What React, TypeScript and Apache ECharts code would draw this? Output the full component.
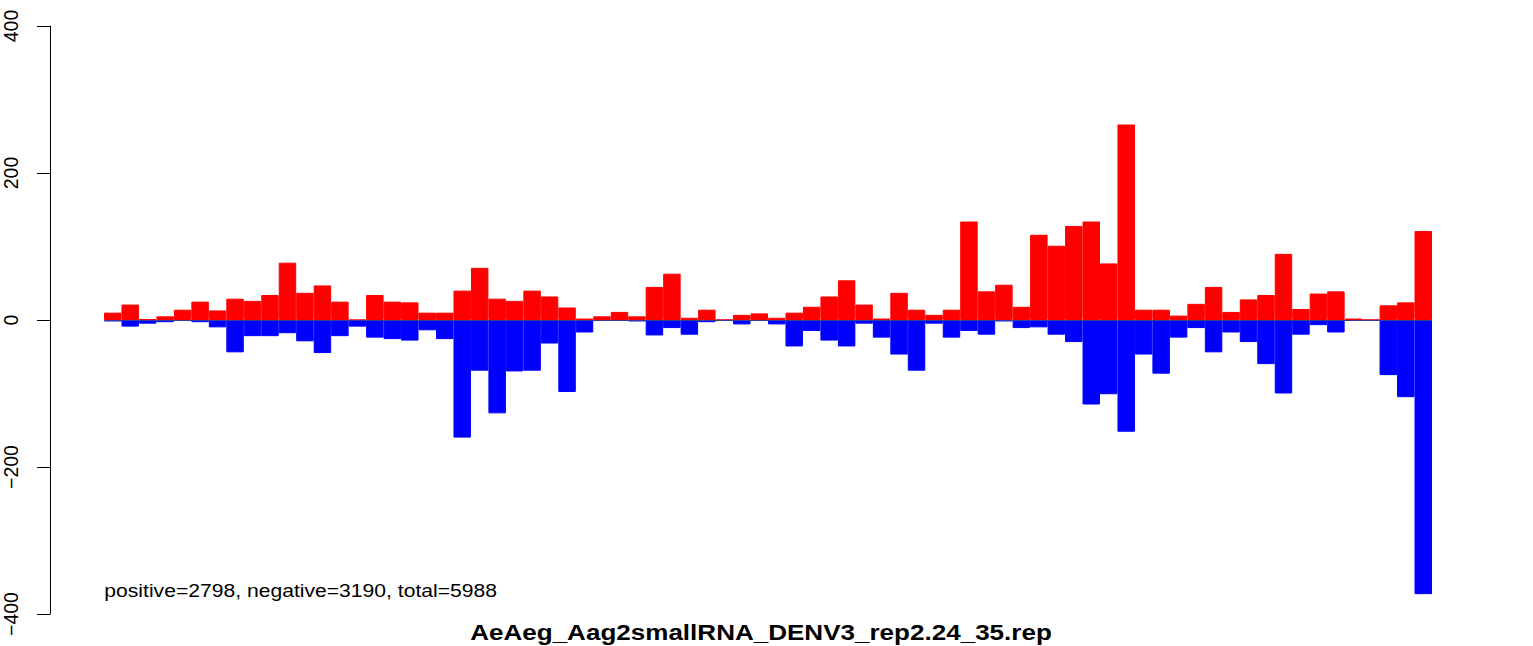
import React, { useEffect, useRef } from "react";
import * as echarts from "echarts";

const bins: number[] = Array.from({ length: 76 }, (_, i) => i + 1);

const positive: number[] = [
  10, 21, 1, 5, 14, 25, 13, 29, 26, 34,
  78, 37, 47, 25, 0, 34, 25, 24, 10, 10,
  40, 71, 29, 26, 40, 32, 17, 2, 5, 11,
  5, 45, 63, 3, 14, 0, 7, 9, 3, 10,
  18, 32, 54, 21, 2, 37, 14, 7, 14, 134,
  39, 48, 18, 116, 101, 128, 134, 77, 266, 14,
  14, 6, 22, 45, 11, 28, 34, 90, 15, 36,
  39, 2, 0, 20, 24, 121,
];

const negative: number[] = [
  -2, -9, -5, -3, -1, -3, -10, -44, -22, -22,
  -18, -29, -45, -22, -9, -24, -26, -28, -14, -26,
  -160, -69, -127, -70, -69, -32, -98, -17, -1, -1,
  -2, -21, -11, -20, -3, -1, -6, -1, -6, -36,
  -15, -28, -36, -5, -24, -47, -69, -5, -24, -15,
  -20, -2, -11, -10, -20, -30, -115, -101, -152, -47,
  -73, -24, -11, -44, -17, -30, -60, -100, -20, -7,
  -17, -1, -1, -75, -105, -373,
];

const yTicks: number[] = [-400, -200, 0, 200, 400];

const titleText = "AeAeg_Aag2smallRNA_DENV3_rep2.24_35.rep";
const summaryText = "positive=2798, negative=3190, total=5988";

export default function App() {
  const ref = useRef<HTMLDivElement>(null);
  useEffect(() => {
    if (!ref.current) return;
    const chart = echarts.init(ref.current, null, { renderer: "svg" });
    const font = "'Liberation Sans', Arial, Helvetica, sans-serif";
    chart.setOption({
      animation: false,
      backgroundColor: "#ffffff",
      grid: { left: 104, right: 101, top: 26, bottom: 32, containLabel: false },
      xAxis: {
        type: "category",
        data: bins,
        show: false,
      },
      yAxis: {
        type: "value",
        min: yTicks[0],
        max: yTicks[yTicks.length - 1],
        interval: 200,
        offset: 54,
        splitLine: { show: false },
        axisLine: { show: true, lineStyle: { color: "#000", width: 1 } },
        axisTick: { show: true, length: 13, lineStyle: { color: "#000", width: 1 } },
        axisLabel: {
          rotate: 90,
          margin: 29,
          fontFamily: font,
          fontSize: 19.5,
          color: "#000",
          formatter: (v: number) => (v < 0 ? "\u2212" + Math.abs(v) : String(v)),
        },
      },
      series: [
        {
          type: "bar",
          data: negative,
          barCategoryGap: "0%",
          barGap: "-100%",
          itemStyle: { color: "#0000FF", borderColor: "#0000FF", borderWidth: 1 },
          markLine: {
            silent: true,
            symbol: "none",
            label: { show: false },
            lineStyle: { color: "#3a3a9a", width: 1, type: "solid" },
            data: [{ yAxis: 0 }],
          },
        },
        {
          type: "bar",
          data: positive,
          barCategoryGap: "0%",
          barGap: "-100%",
          itemStyle: { color: "#FF0000", borderColor: "#FF0000", borderWidth: 1 },
        },
      ],
      graphic: [
        {
          type: "text",
          x: 104.3,
          y: 590,
          scaleX: 1.142,
          style: {
            text: summaryText,
            fontFamily: font,
            fontSize: 18.5,
            fill: "#000",
            align: "left",
            verticalAlign: "middle",
          },
        },
        {
          type: "text",
          x: 761,
          y: 632.3,
          scaleX: 1.184,
          style: {
            text: titleText,
            fontFamily: font,
            fontSize: 22,
            fontWeight: "bold",
            fill: "#000",
            align: "center",
            verticalAlign: "middle",
          },
        },
      ],
    });
    return () => chart.dispose();
  }, []);
  return (
    <div
      ref={ref}
      style={{ position: "fixed", left: 0, top: 0, width: 1533, height: 646, background: "#fff" }}
    />
  );
}
